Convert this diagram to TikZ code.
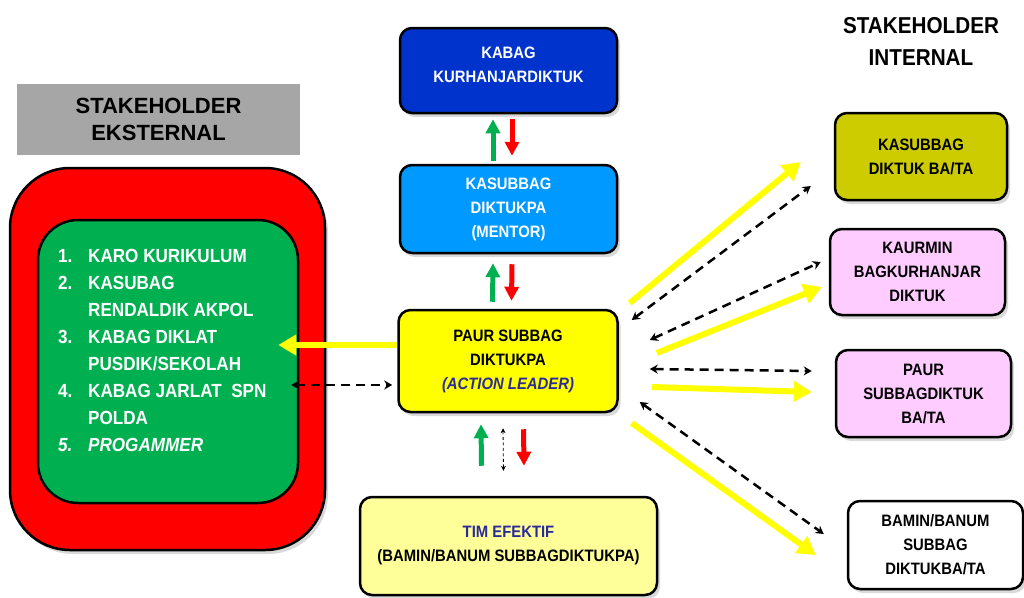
\documentclass[tikz,border=0pt]{standalone}
\usepackage{fontspec}
\setmainfont{Liberation Sans}
\newfontfamily\condfont[FakeStretch=0.9]{Liberation Sans}
\usepackage{xcolor}
\definecolor{kabagblue}{HTML}{0033CC}
\definecolor{mentorblue}{HTML}{0099FF}
\definecolor{leaderyellow}{HTML}{FFFF00}
\definecolor{timyellow}{HTML}{FFFF99}
\definecolor{eksgreen}{HTML}{00B050}
\definecolor{eksred}{HTML}{FF0000}
\definecolor{titlegray}{HTML}{A6A6A6}
\definecolor{olivebox}{HTML}{CCCC00}
\definecolor{pinkbox}{HTML}{FFCCFF}
\definecolor{leaderblue}{HTML}{2A2A9A}
\usetikzlibrary{arrows.meta,shadows}

\tikzset{
  stbox/.style={draw=black, line width=2.5pt, rounded corners=12pt, align=center,
    inner sep=0pt, font=\condfont\fontsize{16.5}{24}\selectfont\bfseries,
    drop shadow={opacity=0.3, shadow xshift=3pt, shadow yshift=-4pt}},
  yarrow/.style={draw=leaderyellow, line width=6pt, -{Triangle[length=18pt,width=20pt]}},
  darrow/.style={draw=black, line width=2.5pt, dash pattern=on 9pt off 6pt,
    {Stealth[length=8pt,width=9pt]}-{Stealth[length=8pt,width=9pt]}},
  tarrow/.style={draw=black, line width=0.8pt, dash pattern=on 3pt off 2.5pt,
    {Stealth[length=5pt,width=5pt]}-{Stealth[length=5pt,width=5pt]}},
  garrow/.style={draw=eksgreen, line width=5pt, -{Triangle[length=14pt,width=14pt]}},
  rarrow/.style={draw=eksred, line width=5pt, -{Triangle[length=14pt,width=14pt]}},
}

\begin{document}
\begin{tikzpicture}[x=1pt,y=-1pt]
  \useasboundingbox (0,0) rectangle (1024,597);

  % stakeholder eksternal
  \node[fill=titlegray, minimum width=283pt, minimum height=71pt, align=center,
    font=\fontsize{22}{27}\selectfont\bfseries] (ekstitle) at (158.5,119.5) {STAKEHOLDER\\EKSTERNAL};
  \node[fill=eksred, draw=black, line width=2.5pt, rounded corners=60pt,
    minimum width=315pt, minimum height=382pt,
    drop shadow={opacity=0.3, shadow xshift=3pt, shadow yshift=-4pt}] (red) at (167.5,359) {};
  \node[fill=eksgreen, draw=black, line width=2.5pt, rounded corners=40pt,
    minimum width=260pt, minimum height=283pt] (green) at (168,361.5) {};
  \node[anchor=north west, inner sep=0pt, align=left, text=white,
    font=\condfont\fontsize{19}{27}\selectfont\bfseries] (ekslist) at (58,249)
    {\makebox[30pt][l]{1.}KARO KURIKULUM\\
     \makebox[30pt][l]{2.}KASUBAG\\
     \hspace*{30pt}RENDALDIK AKPOL\\
     \makebox[30pt][l]{3.}KABAG DIKLAT\\
     \hspace*{30pt}PUSDIK/SEKOLAH\\
     \makebox[30pt][l]{4.}KABAG JARLAT\ \ SPN\\
     \hspace*{30pt}POLDA\\
     \makebox[30pt][l]{\itshape 5.}\textit{PROGAMMER}};

  % tengah
  \node[stbox, fill=kabagblue, text=white, minimum width=217pt, minimum height=85pt]
    (kabag) at (508.5,70.5) {KABAG\\KURHANJARDIKTUK\\[-12pt]};
  \node[stbox, fill=mentorblue, text=white, minimum width=217pt, minimum height=88pt]
    (mentor) at (508.5,209) {KASUBBAG\\DIKTUKPA\\(MENTOR)};
  \node[stbox, fill=leaderyellow, minimum width=219pt, minimum height=102pt]
    (paur) at (508,361) {PAUR SUBBAG\\DIKTUKPA\\\textit{\color{leaderblue}(ACTION LEADER)}};
  \node[stbox, fill=timyellow, minimum width=297pt, minimum height=98pt]
    (tim) at (508.5,546) {{\color{leaderblue}TIM EFEKTIF}\\(BAMIN/BANUM SUBBAGDIKTUKPA)};

  % stakeholder internal
  \node[align=center, font=\condfont\fontsize{23}{32}\selectfont\bfseries] (inttitle) at (921,41.5)
    {STAKEHOLDER\\INTERNAL};
  \node[stbox, fill=olivebox, minimum width=172pt, minimum height=87pt]
    (kasub) at (921,156.5) {KASUBBAG\\DIKTUK BA/TA};
  \node[stbox, fill=pinkbox, minimum width=175pt, minimum height=86pt]
    (kaurmin) at (917.5,272) {KAURMIN\\BAGKURHANJAR\\DIKTUK};
  \node[stbox, fill=pinkbox, minimum width=175pt, minimum height=87pt]
    (paurba) at (923.5,393.5) {PAUR\\SUBBAGDIKTUK\\BA/TA};
  \node[stbox, fill=white, minimum width=175pt, minimum height=88pt]
    (bamin) at (935.5,545) {BAMIN/BANUM\\SUBBAG\\DIKTUKBA/TA};

  % panah vertikal
  \draw[garrow] ([xshift=-15.5pt,yshift=3pt]mentor.north) -- ([xshift=-15.5pt,yshift=-5pt]kabag.south);
  \draw[rarrow] ([xshift=3.5pt,yshift=-5pt]kabag.south) -- ([xshift=3.5pt,yshift=8pt]mentor.north);
  \draw[garrow] ([xshift=-15.5pt,yshift=7pt]paur.north) -- ([xshift=-15.5pt,yshift=-9pt]mentor.south);
  \draw[rarrow] ([xshift=3.5pt,yshift=-10pt]mentor.south) -- ([xshift=3.5pt,yshift=8pt]paur.north);
  \draw[garrow] ([xshift=-27pt,yshift=30pt]tim.north) -- ([xshift=-27pt,yshift=-11pt]paur.south);
  \draw[tarrow] ([xshift=-5pt,yshift=-15pt]paur.south) -- ([xshift=-5pt,yshift=25pt]tim.north);
  \draw[rarrow] ([xshift=15.5pt,yshift=-16pt]paur.south) -- ([xshift=15.5pt,yshift=30pt]tim.north);

  % ke eksternal
  \draw[yarrow] ([yshift=16pt]paur.west) -- ([xshift=-21pt,yshift=16.5pt]green.east);
  \draw[darrow] ([xshift=-8pt,yshift=-23.5pt]green.east) -- ([xshift=-5pt,yshift=-24pt]paur.west);

  % ke internal
  \draw[yarrow] ([xshift=11pt,yshift=58pt]paur.east) -- ([xshift=-33pt,yshift=-5.5pt]kasub.west);
  \draw[darrow] ([xshift=13pt,yshift=41pt]paur.east) -- ([xshift=-23pt,yshift=-29.5pt]kasub.west);
  \draw[darrow] ([xshift=31pt,yshift=21pt]paur.east) -- ([xshift=-8pt,yshift=10pt]kaurmin.west);
  \draw[yarrow] ([xshift=38pt,yshift=8pt]paur.east) -- ([xshift=-7pt,yshift=-15pt]kaurmin.west);
  \draw[darrow] ([xshift=31pt,yshift=-8pt]paur.east) -- ([xshift=-23pt,yshift=22.5pt]paurba.west);
  \draw[yarrow] ([xshift=33pt,yshift=-26pt]paur.east) -- ([xshift=-23pt,yshift=1.5pt]paurba.west);
  \draw[darrow] ([xshift=21pt,yshift=-41pt]paur.east) -- ([xshift=-23pt,yshift=11pt]bamin.west);
  \draw[yarrow] ([xshift=13pt,yshift=-62pt]paur.east) -- ([xshift=-31pt,yshift=-10pt]bamin.west);
\end{tikzpicture}
\end{document}
